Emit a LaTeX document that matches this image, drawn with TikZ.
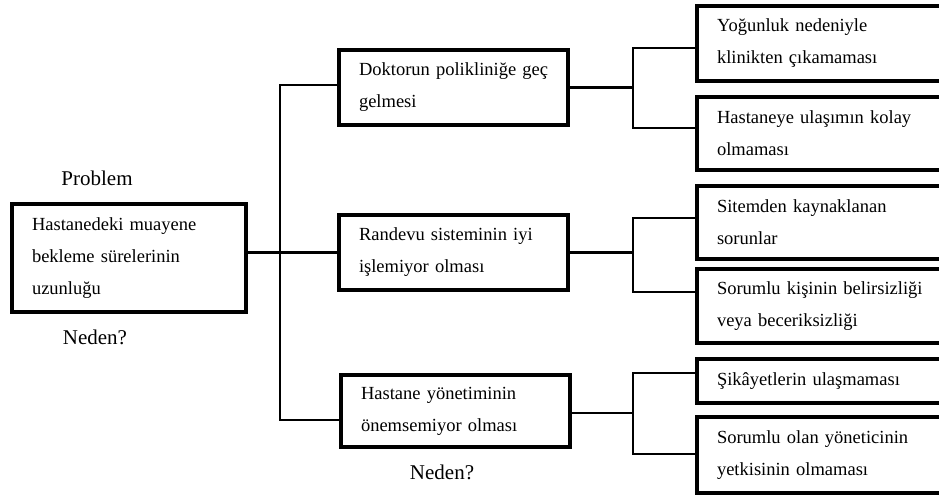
\documentclass[tikz,border=0pt]{standalone}
\usepackage{fontspec}
\setmainfont{Liberation Serif}
\begin{document}
\begin{tikzpicture}[x=1pt,y=-1pt,
  box/.style={draw=black, line width=4pt, line join=miter, rectangle,
    inner xsep=20pt, inner ysep=0pt, align=left,
    font=\fontsize{18.5}{32}\selectfont},
  probbox/.style={box, line width=4.6pt},
  midbox/.style={box, minimum width=229pt, text width=189pt},
  causebox/.style={box, minimum width=268pt, text width=228pt},
  lbl/.style={inner sep=0pt, font=\fontsize{21}{24}\selectfont},
  conn/.style={draw=black, line width=2.7pt, line join=miter}]
\useasboundingbox (0,0) rectangle (939,498);
\clip (0,0) rectangle (939,498);

% problem statement
\node[probbox, minimum width=234pt, minimum height=108pt, text width=194pt]
  (prob) at (129,258) {Hastanedeki muayene\\bekleme sürelerinin\\uzunluğu};
\node[lbl] (problbl) at (97,178) {Problem};
\node[lbl] (whyA) at (95,337) {Neden?};

% first-level causes
\node[midbox, minimum height=75pt] (m1) at (453.5,87.5) {\mbox{Doktorun polikliniğe geç}\\gelmesi};
\node[midbox, minimum height=75pt] (m2) at (453.5,252.5) {\mbox{Randevu sisteminin iyi}\\işlemiyor olması};
\node[midbox, minimum height=72pt] (m3) at (455.5,411) {\mbox{Hastane yönetiminin}\\önemsemiyor olması};
\node[lbl] (whyB) at (442,472) {Neden?};

% second-level causes
\node[causebox, minimum height=75pt] (c1) at (831,43.5) {Yoğunluk nedeniyle\\klinikten çıkamaması};
\node[causebox, minimum height=73pt] (c2) at (831,133.5) {Hastaneye ulaşımın kolay\\olmaması};
\node[causebox, minimum height=73pt] (c3) at (831,222.5) {Sitemden kaynaklanan\\sorunlar};
\node[causebox, minimum height=74pt] (c4) at (831,306) {Sorumlu kişinin belirsizliği\\veya beceriksizliği};
\node[causebox, minimum height=44pt] (c5) at (831,381) {Şikâyetlerin ulaşmaması};
\node[causebox, minimum height=76pt] (c6) at (831,455) {Sorumlu olan yöneticinin\\yetkisinin olmaması};

% trunk from the problem to the first-level causes
\coordinate (tTop) at (280,85);
\coordinate (tBot) at (280,420);
\draw[conn] (prob.east |- m2.west) -- (m2.west);
\draw[conn] (m1.west |- tTop) -- (tTop) -- (tBot) -- (m3.west |- tBot);

% forks to the second-level causes
\coordinate (f1a) at (633,48);
\coordinate (f1b) at (633,128);
\coordinate (f2a) at (633,218);
\coordinate (f2b) at (633,292);
\coordinate (f3a) at (633,373);
\coordinate (f3b) at (633,454);
\coordinate (f3m) at (633,413);

\draw[conn] (m1.east) -- (m1.east -| f1a);
\draw[conn] (c1.west |- f1a) -- (f1a) -- (f1b) -- (c2.west |- f1b);
\draw[conn] (m2.east) -- (m2.east -| f2a);
\draw[conn] (c3.west |- f2a) -- (f2a) -- (f2b) -- (c4.west |- f2b);
\draw[conn] (m3.east |- f3m) -- (f3m);
\draw[conn] (c5.west |- f3a) -- (f3a) -- (f3b) -- (c6.west |- f3b);
\end{tikzpicture}
\end{document}
